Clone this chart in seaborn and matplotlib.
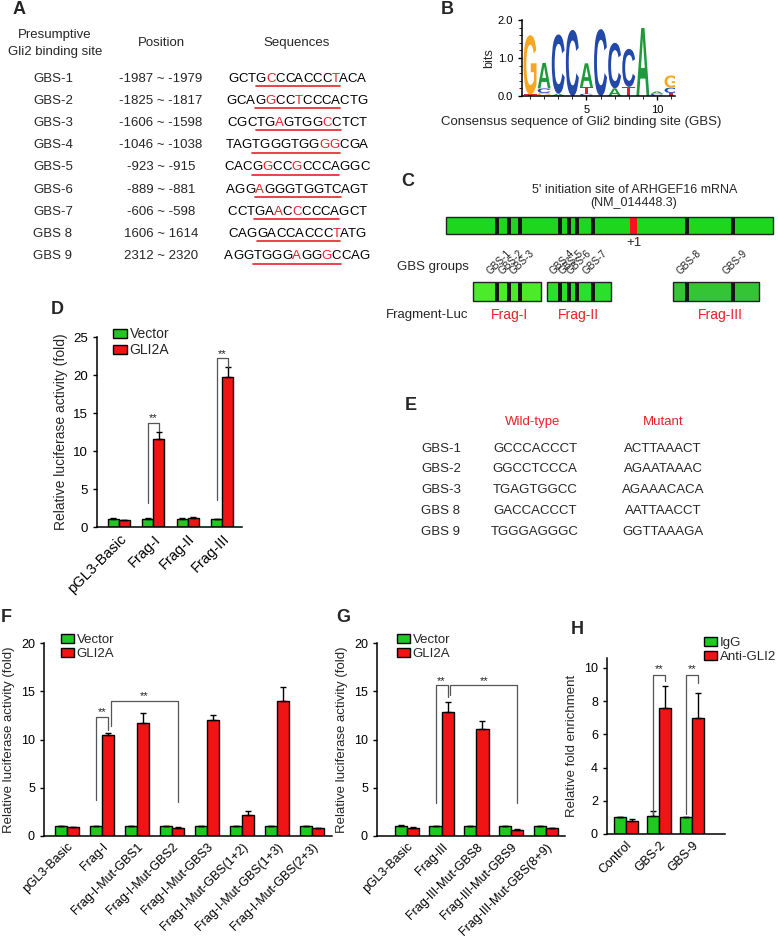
import numpy as np
import pandas as pd
import seaborn as sns
import matplotlib
matplotlib.use('Agg')
import matplotlib.pyplot as plt
import matplotlib.transforms as mtransforms
from matplotlib.patches import Rectangle, PathPatch
from matplotlib.textpath import TextPath
from matplotlib.font_manager import FontProperties

# ---------------- data ----------------
# A: presumptive Gli2 binding sites
gbs_names = ['GBS-1', 'GBS-2', 'GBS-3', 'GBS-4', 'GBS-5', 'GBS-6', 'GBS-7', 'GBS 8', 'GBS 9']
gbs_positions = ['-1987 ~ -1979', '-1825 ~ -1817', '-1606 ~ -1598', '-1046 ~ -1038',
                 '-923 ~ -915', '-889 ~ -881', '-606 ~ -598', '1606 ~ 1614', '2312 ~ 2320']
gbs_sequences = ['GCTGCCCACCCTACA', 'GCAGGCCTCCCACTG', 'CGCTGAGTGGCCTCT', 'TAGTGGGTGGGGCGA',
                 'CACGGCCGCCCAGGC', 'AGGAGGGTGGTCAGT', 'CCTGAACCCCCAGCT', 'CAGGACCACCCTATG',
                 'AGGTGGGAGGGCCAG']
gbs_red_idx = [[4, 11], [4, 7], [5, 10], [10, 11], [4, 7], [3], [5, 7], [11], [7, 10]]
site_start, site_end = 3, 11

# B: sequence logo, letters bottom -> top with heights in bits
logo_stacks = [
    [('T', 0.04), ('G', 1.56)],
    [('G', 0.08), ('C', 0.12), ('A', 0.67)],
    [('A', 0.06), ('C', 1.56)],
    [('C', 1.74)],
    [('C', 0.06), ('T', 0.18), ('A', 0.62)],
    [('C', 1.76)],
    [('A', 0.2), ('C', 1.2)],
    [('T', 0.24), ('C', 1.0)],
    [('A', 1.79)],
    [('C', 0.06), ('A', 0.06)],
    [('T', 0.08), ('C', 0.14), ('G', 0.32)],
]

# C: GBS groups / fragments
frag_names = ['Frag-I', 'Frag-II', 'Frag-III']
frag_gbs = [['GBS-1', 'GBS-2', 'GBS-3'], ['GBS-4', 'GBS-5', 'GBS-6', 'GBS-7'], ['GBS-8', 'GBS-9']]

# D
d_cats = ['pGL3-Basic', 'Frag-I', 'Frag-II', 'Frag-III']
d_vector = [1.1, 1.1, 1.1, 1.05]
d_vector_err = [0.03, 0.03, 0.03, 0.03]
d_gli2a = [0.88, 11.6, 1.25, 19.8]
d_gli2a_err = [0.03, 0.9, 0.08, 1.2]

# E
e_names = ['GBS-1', 'GBS-2', 'GBS-3', 'GBS 8', 'GBS 9']
e_wild = ['GCCCACCCT', 'GGCCTCCCA', 'TGAGTGGCC', 'GACCACCCT', 'TGGGAGGGC']
e_mutant = ['ACTTAAACT', 'AGAATAAAC', 'AGAAACACA', 'AATTAACCT', 'GGTTAAAGA']

# F
f_cats = ['pGL3-Basic', 'Frag-I', 'Frag-I-Mut-GBS1', 'Frag-I-Mut-GBS2', 'Frag-I-Mut-GBS3',
          'Frag-I-Mut-GBS(1+2)', 'Frag-I-Mut-GBS(1+3)', 'Frag-I-Mut-GBS(2+3)']
f_vector = [1.0, 1.0, 1.0, 1.0, 1.0, 1.0, 1.0, 1.05]
f_vector_err = [0.02, 0.03, 0.02, 0.05, 0.04, 0.02, 0.02, 0.03]
f_gli2a = [0.94, 10.47, 11.75, 0.87, 12.03, 2.22, 14.04, 0.78]
f_gli2a_err = [0.02, 0.2, 0.97, 0.04, 0.47, 0.34, 1.45, 0.03]

# G
g_cats = ['pGL3-Basic', 'Frag-III', 'Frag-III-Mut-GBS8', 'Frag-III-Mut-GBS9', 'Frag-III-Mut-GBS(8+9)']
g_vector = [1.07, 1.0, 1.0, 1.0, 1.0]
g_vector_err = [0.11, 0.03, 0.03, 0.03, 0.04]
g_gli2a = [0.83, 12.9, 11.06, 0.66, 0.78]
g_gli2a_err = [0.11, 0.96, 0.84, 0.03, 0.03]

# H
h_cats = ['Control', 'GBS-2', 'GBS-9']
h_igg = [1.02, 1.1, 1.0]
h_igg_err = [0.03, 0.28, 0.04]
h_anti = [0.76, 7.6, 6.96]
h_anti_err = [0.14, 1.3, 1.54]

# ---------------- style ----------------
GREEN = '#20C820'
RED = '#F01414'
TXT_RED = '#E8202A'
LOGO_COL = {'A': '#1E9A3C', 'C': '#2349A8', 'G': '#F5A623', 'T': '#D9252B'}

sns.set_style('ticks')
plt.rcParams['font.family'] = ['Liberation Sans', 'DejaVu Sans']
plt.rcParams['axes.edgecolor'] = 'black'
plt.rcParams['axes.linewidth'] = 1.1
plt.rcParams['xtick.color'] = 'black'
plt.rcParams['ytick.color'] = 'black'
plt.rcParams['xtick.major.size'] = 3
plt.rcParams['ytick.major.size'] = 3
plt.rcParams['xtick.major.width'] = 1
plt.rcParams['ytick.major.width'] = 1

W, H = 778, 948
fig = plt.figure(figsize=(W / 100, H / 100), dpi=100)


def px_rect(left, top, right, bottom):
    return [left / W, 1 - bottom / H, (right - left) / W, (bottom - top) / H]


# canvas axes in pixel units for tables and schematic
cv = fig.add_axes([0, 0, 1, 1])
cv.set_xlim(0, W)
cv.set_ylim(H, 0)
cv.axis('off')
rend = fig.canvas.get_renderer()


def ink_w(s, size):
    t = cv.text(0, 0, s, fontsize=size)
    w = t.get_window_extent(rend).width
    t.remove()
    return w


# panel letters
for lab, (x, y) in zip('ABCDEFGH', [(19, 9), (447, 9), (408, 181), (57, 310), (411, 406),
                                    (6, 617), (343, 617), (577, 630)]):
    cv.text(x, y, lab, fontsize=13, fontweight='bold', ha='center', va='center')

# ---------------- A ----------------
fs = 9.5
cv.text(55, 35, 'Presumptive', fontsize=fs, ha='center', va='center')
cv.text(55, 52, 'Gli2 binding site', fontsize=fs, ha='center', va='center')
cv.text(161, 43, 'Position', fontsize=fs, ha='center', va='center')
cv.text(297, 43, 'Sequences', fontsize=fs, ha='center', va='center')
for i, (nm, pos, seq, reds) in enumerate(zip(gbs_names, gbs_positions, gbs_sequences, gbs_red_idx)):
    base = 81.5 + i * 22.2
    cv.text(53, base, nm, fontsize=fs, ha='center', va='baseline')
    cv.text(161, base, pos, fontsize=fs, ha='center', va='baseline')
    x0 = 297 - ink_w(seq, fs) / 2
    for k, ch in enumerate(seq):
        off = ink_w(seq[:k + 1], fs) - ink_w(ch, fs)
        cv.text(x0 + off, base, ch, fontsize=fs, ha='left', va='baseline',
                color=TXT_RED if k in reds else 'black')
    ul0 = x0 + ink_w(seq[:site_start + 1], fs) - ink_w(seq[site_start], fs)
    ul1 = x0 + ink_w(seq[:site_end + 1], fs)
    cv.plot([ul0, ul1], [base + 4.5, base + 4.5], color=TXT_RED, lw=1.2)

# ---------------- B: logo ----------------
axb = fig.add_axes(px_rect(522, 20, 675, 96))
fp_logo = FontProperties(family='Liberation Sans', weight='bold')
for i, stack in enumerate(logo_stacks):
    xpos = i + 1
    ybase = 0.0
    for ch, h in stack:
        tp = TextPath((0, 0), ch, size=1, prop=fp_logo)
        bb = tp.get_extents()
        tr = (mtransforms.Affine2D().translate(-bb.x0, -bb.y0)
              .scale(0.92 / bb.width, h / bb.height).translate(xpos - 0.46, ybase))
        axb.add_patch(PathPatch(tr.transform_path(tp), fc=LOGO_COL[ch], ec='none'))
        ybase += h
axb.set_xlim(0.43, 11.28)
axb.set_ylim(0, 2)
axb.set_xticks([5, 10])
axb.set_xticks(range(1, 12), minor=True)
axb.set_yticks([0, 1, 2])
axb.set_yticklabels(['0.0', '1.0', '2.0'])
axb.set_yticks(np.arange(0, 2.01, 0.2), minor=True)
axb.tick_params(labelsize=8, length=3)
axb.tick_params(which='minor', length=2)
axb.set_ylabel('bits', fontsize=9, labelpad=2)
sns.despine(ax=axb)
cv.text(581, 122, 'Consensus sequence of Gli2 binding site (GBS)', fontsize=fs, ha='center', va='center')

# ---------------- C: schematic ----------------
main_stripes = [497, 509, 520, 560, 569, 577, 593, 687, 733]
cv.text(635, 190, "5' initiation site of ARHGEF16 mRNA", fontsize=9, ha='center', va='center')
cv.text(634, 203, '(NM_014448.3)', fontsize=9, ha='center', va='center')
cv.add_patch(Rectangle((446, 217), 327, 17, fc='#1ED61E', ec='none'))
for sx in main_stripes:
    cv.add_patch(Rectangle((sx - 1.6, 217), 3.2, 17, fc='#151515', ec='none'))
cv.add_patch(Rectangle((630, 217), 7, 17, fc='#FF1020', ec='none'))
cv.add_patch(Rectangle((446, 217), 327, 17, fc='none', ec='#222222', lw=1))
cv.text(634, 243, '+1', fontsize=9.5, ha='center', va='center')
cv.text(433, 267, 'GBS groups', fontsize=fs, ha='center', va='center')
cv.text(427, 315, 'Fragment-Luc', fontsize=fs, ha='center', va='center')

frag_boxes = [(473, 541, '#4CEB2A'), (547, 611, '#2BE02B'), (673, 759, '#35C435')]
frag_label_x = [510, 578, 720]
stripe_groups = [main_stripes[0:3], main_stripes[3:7], main_stripes[7:9]]
for (fx0, fx1, col), stripes, names, fname, lx in zip(frag_boxes, stripe_groups, frag_gbs,
                                                      frag_names, frag_label_x):
    cv.add_patch(Rectangle((fx0, 282), fx1 - fx0, 19, fc=col, ec='none'))
    for sx, nm in zip(stripes, names):
        cv.add_patch(Rectangle((sx - 1.6, 282), 3.2, 19, fc='#151515', ec='none'))
        cv.text(sx - 5, 276, nm, fontsize=7.2, rotation=45, rotation_mode='anchor',
                ha='left', va='bottom', color='#222222')
    cv.add_patch(Rectangle((fx0, 282), fx1 - fx0, 19, fc='none', ec='#222222', lw=1))
    cv.text(lx, 315, fname, fontsize=10, color=TXT_RED, ha='center', va='center')

# ---------------- E ----------------
cv.text(533, 422, 'Wild-type', fontsize=fs, color=TXT_RED, ha='center', va='center')
cv.text(663, 422, 'Mutant', fontsize=fs, color=TXT_RED, ha='center', va='center')
for i, (nm, wt, mt) in enumerate(zip(e_names, e_wild, e_mutant)):
    y = 448.5 + i * 20.8
    cv.text(441, y, nm, fontsize=fs, ha='center', va='center')
    cv.text(535, y, wt, fontsize=fs, ha='center', va='center')
    cv.text(663, y, mt, fontsize=fs, ha='center', va='center')


# ---------------- bar panels ----------------
def bar_panel(rect, cats, a, a_err, b, b_err, labels, ylim, yticks, ylabel, width, xlim, leg_xy,
              xfs=9, yfs=9, lfs=9.5):
    ax = fig.add_axes(px_rect(*rect))
    df = pd.DataFrame({'cat': cats * 2, 'val': a + b,
                       'grp': [labels[0]] * len(cats) + [labels[1]] * len(cats)})
    sns.barplot(data=df, x='cat', y='val', hue='grp', palette=[GREEN, RED], saturation=1,
                edgecolor='black', linewidth=1, errorbar=None, width=width, ax=ax)
    centers = []
    for cont, err in zip(ax.containers, [a_err, b_err]):
        xs = [r.get_x() + r.get_width() / 2 for r in cont]
        hs = [r.get_height() for r in cont]
        ax.errorbar(xs, hs, yerr=[np.zeros(len(err)), err], fmt='none', ecolor='black',
                    elinewidth=1, capsize=2.5, capthick=1, zorder=3)
        centers.append(xs)
    ax.set_xlim(*xlim)
    ax.set_ylim(*ylim)
    ax.set_yticks(yticks)
    ax.set_xlabel('')
    ax.set_ylabel(ylabel, fontsize=lfs)
    ax.tick_params(axis='y', labelsize=yfs)
    ax.tick_params(axis='x', labelsize=xfs, length=0)
    for t in ax.get_xticklabels():
        t.set_rotation(45)
        t.set_ha('right')
        t.set_rotation_mode('anchor')
    sns.despine(ax=ax)
    handles, labs = ax.get_legend_handles_labels()
    ax.legend(handles, labs, loc='upper left', bbox_to_anchor=(leg_xy[0] / W, 1 - leg_xy[1] / H),
              bbox_transform=fig.transFigure, frameon=False, fontsize=lfs, handlelength=1.0,
              handleheight=0.6, handletextpad=0.2, labelspacing=0.15, borderpad=0, borderaxespad=0)
    return ax, centers


def bracket(ax, x1, x2, y1, ytop, y2, sy):
    ax.plot([x1, x1, x2, x2], [y1, ytop, ytop, y2], color='#555555', lw=0.9, clip_on=False, zorder=4)
    ax.text((x1 + x2) / 2, sy, '**', ha='center', va='center', fontsize=8, color='#222222')


ylab_luc = 'Relative luciferase activity (fold)'

# D
axd, cd = bar_panel((97, 337, 242, 527), d_cats, d_vector, d_vector_err, d_gli2a, d_gli2a_err,
                    ['Vector', 'GLI2A'], (0, 25), [0, 5, 10, 15, 20, 25], ylab_luc, 0.64,
                    (-0.64, 3.58), (113, 327), xfs=10.5, yfs=9.5, lfs=10)
bracket(axd, cd[0][1], cd[1][1], 3.2, 13.7, 12.6, 14.3)
bracket(axd, cd[0][3], cd[1][3], 3.5, 22.2, 21.1, 22.8)

# F
axf, cf = bar_panel((44, 643, 332, 836), f_cats, f_vector, f_vector_err, f_gli2a, f_gli2a_err,
                    ['Vector', 'GLI2A'], (0, 20), [0, 5, 10, 15, 20], ylab_luc, 0.68,
                    (-0.65, 7.57), (61, 634))
bracket(axf, cf[0][1], cf[1][1], 3.7, 12.3, 11.0, 12.8)
bracket(axf, cf[1][1] + 0.09, cf[1][3], 11.4, 14.0, 3.5, 14.5)

# G
axg, cg = bar_panel((377, 643, 565, 836), g_cats, g_vector, g_vector_err, g_gli2a, g_gli2a_err,
                    ['Vector', 'GLI2A'], (0, 20), [0, 5, 10, 15, 20], ylab_luc, 0.7,
                    (-0.86, 4.55), (397, 634))
bracket(axg, cg[0][1], cg[1][1], 3.4, 15.6, 14.4, 16.1)
bracket(axg, cg[1][1] + 0.08, cg[1][3], 14.6, 15.6, 3.4, 16.1)

# H
axh, ch = bar_panel((607, 658, 725, 834), h_cats, h_igg, h_igg_err, h_anti, h_anti_err,
                    ['IgG', 'Anti-GLI2'], (0, 10.6), [0, 2, 4, 6, 8, 10],
                    'Relative fold enrichment', 0.72, (-0.58, 3.0), (704, 637))
bracket(axh, ch[0][1], ch[1][1], 1.2, 9.6, 9.2, 9.95)
bracket(axh, ch[0][2], ch[1][2], 1.2, 9.6, 9.1, 9.95)

fig.savefig('out.png', dpi=100)
